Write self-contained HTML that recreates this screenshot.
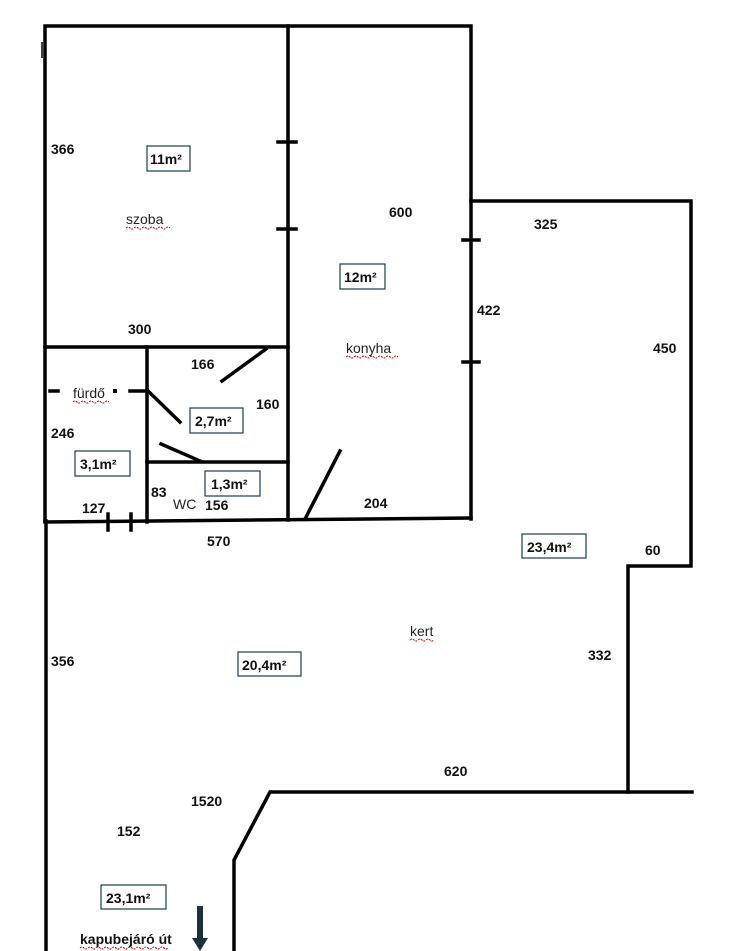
<!DOCTYPE html>
<html><head><meta charset="utf-8"><style>
html,body{margin:0;padding:0;background:#fff;}
svg{display:block}
.b{font-family:"Liberation Sans",sans-serif;font-weight:bold;font-size:14px;fill:#111}
.n{font-family:"Liberation Sans",sans-serif;font-size:14px;fill:#222}
.u{stroke:#c00;stroke-width:1;fill:none;stroke-dasharray:2 1}
</style></head><body>
<svg width="730" height="951" viewBox="0 0 730 951" xmlns="http://www.w3.org/2000/svg">
<g stroke="#000" stroke-width="3.5" fill="none" stroke-linecap="square">
<polyline points="45,521 45,26 471,26 471,519"/>
<line x1="46" y1="521" x2="46" y2="951"/>
<line x1="288" y1="26" x2="288" y2="520"/>
<line x1="45" y1="347" x2="288" y2="347"/>
<line x1="147" y1="347" x2="147" y2="522"/>
<line x1="147" y1="462" x2="288" y2="462"/>
<line x1="45" y1="522" x2="471" y2="518"/>
<polyline points="471,201 691,201 691,566 628,566 628,792"/>
<polyline points="692,792 270,792 234,860 234,951"/>
<line x1="278" y1="142" x2="296" y2="142"/>
<line x1="278" y1="229" x2="296" y2="229"/>
<line x1="463" y1="240" x2="479" y2="240"/>
<line x1="463" y1="362" x2="479" y2="362"/>
<line x1="108" y1="514" x2="108" y2="530"/>
<line x1="131" y1="514" x2="131" y2="530"/>
<line x1="50" y1="391" x2="58" y2="391"/>
<line x1="130" y1="391" x2="144" y2="391"/>
<line x1="222" y1="381" x2="266" y2="349"/>
<line x1="148" y1="391" x2="180" y2="422"/>
<line x1="161" y1="444" x2="200" y2="461"/>
<line x1="305" y1="519" x2="340" y2="451"/>
</g>
<line x1="42" y1="42" x2="42" y2="58" stroke="#000" stroke-width="1.5"/>
<rect x="113" y="389" width="4" height="4" fill="#000"/>
<g fill="none" stroke="#1c3d4f" stroke-width="1.2">
<rect x="147" y="146" width="43" height="25"/>
<rect x="340" y="264" width="45" height="25"/>
<rect x="190" y="408" width="53" height="25"/>
<rect x="75" y="451" width="55" height="25"/>
<rect x="205" y="471" width="55" height="25"/>
<rect x="522" y="534" width="64" height="24"/>
<rect x="238" y="652" width="63" height="24"/>
<rect x="101" y="885" width="65" height="24"/>
</g>
<text class="b" x="51" y="154">366</text>
<text class="b" x="150" y="164">11m²</text>
<text class="n" x="126" y="224">szoba</text>
<path class="u" d="M126,228 q2,-2 4,0 t4,0 t4,0 t4,0 t4,0 t4,0 t4,0 t4,0 t4,0 t4,0 t4,0"/>
<text class="b" x="128" y="334">300</text>
<text class="b" x="389" y="217">600</text>
<text class="b" x="344" y="282">12m²</text>
<text class="n" x="346" y="353">konyha</text>
<path class="u" d="M346,357 q2,-2 4,0 t4,0 t4,0 t4,0 t4,0 t4,0 t4,0 t4,0 t4,0 t4,0 t4,0 t4,0 t4,0"/>
<text class="b" x="534" y="229">325</text>
<text class="b" x="477" y="315">422</text>
<text class="b" x="653" y="353">450</text>
<text class="n" x="73" y="398">fürdő</text>
<path class="u" d="M73,402 q2,-2 4,0 t4,0 t4,0 t4,0 t4,0 t4,0 t4,0 t4,0 t4,0"/>
<text class="b" x="191" y="369">166</text>
<text class="b" x="256" y="409">160</text>
<text class="b" x="195" y="426">2,7m²</text>
<text class="b" x="51" y="438">246</text>
<text class="b" x="80" y="469">3,1m²</text>
<text class="b" x="211" y="489">1,3m²</text>
<text class="b" x="151" y="497">83</text>
<text class="n" x="173" y="509">WC</text>
<text class="b" x="205" y="510">156</text>
<text class="b" x="82" y="513">127</text>
<text class="b" x="364" y="508">204</text>
<text class="b" x="207" y="546">570</text>
<text class="b" x="527" y="552">23,4m²</text>
<text class="b" x="645" y="555">60</text>
<text class="n" x="410" y="636">kert</text>
<path class="u" d="M410,640 q2,-2 4,0 t4,0 t4,0 t4,0 t4,0 t4,0"/>
<text class="b" x="51" y="666">356</text>
<text class="b" x="242" y="670">20,4m²</text>
<text class="b" x="588" y="660">332</text>
<text class="b" x="444" y="776">620</text>
<text class="b" x="191" y="806">1520</text>
<text class="b" x="117" y="836">152</text>
<text class="b" x="106" y="903">23,1m²</text>
<text class="b" x="80" y="944">kapubejáró út</text>
<path class="u" d="M80,948 q2,-2 4,0 t4,0 t4,0 t4,0 t4,0 t4,0 t4,0 t4,0 t4,0 t4,0 t4,0 t4,0 t4,0 t4,0 t4,0 t4,0 t4,0 t4,0 t4,0 t4,0 t4,0 t4,0"/>
<line x1="200" y1="906" x2="200" y2="940" stroke="#1c2f3c" stroke-width="6"/>
<polygon points="192,938 208,938 200,951" fill="#1c2f3c"/>
</svg>
</body></html>
